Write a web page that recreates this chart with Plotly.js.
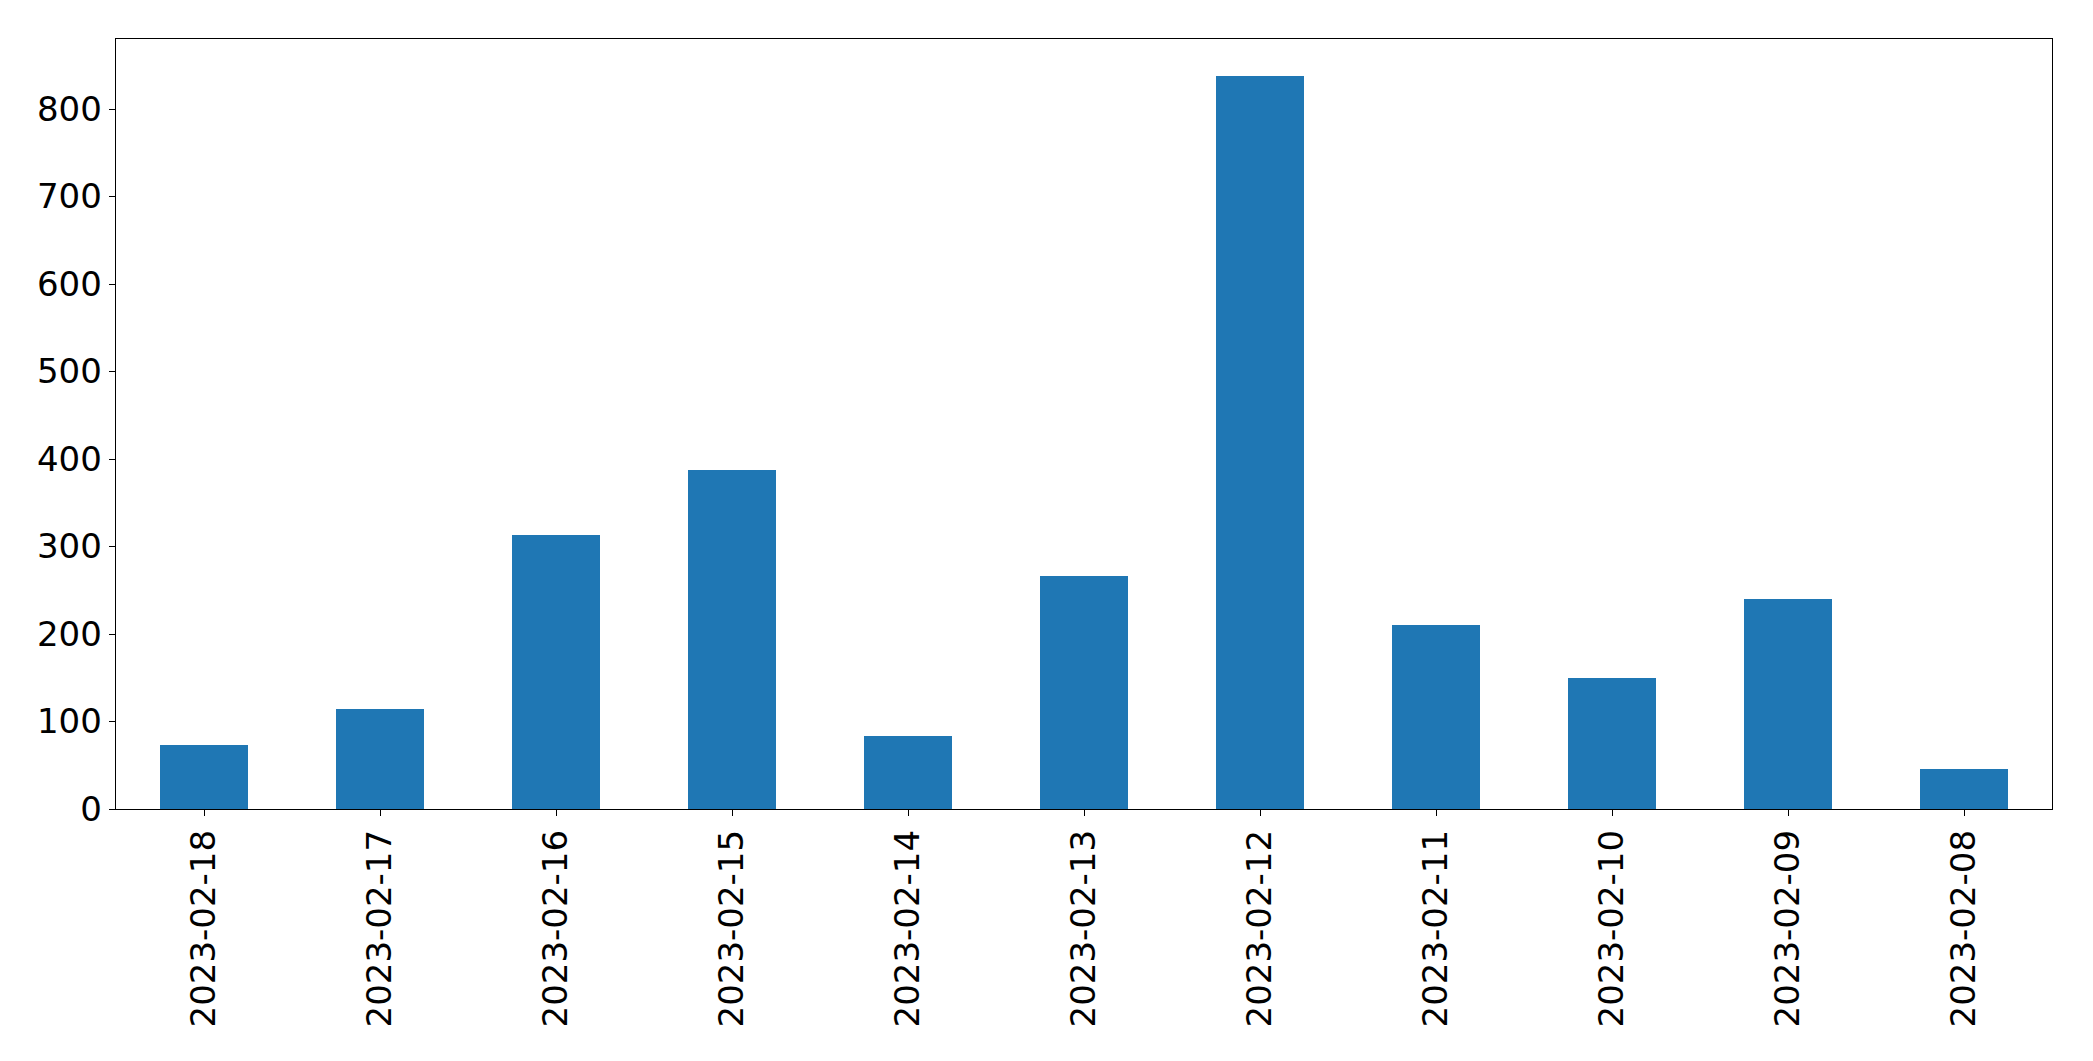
<!DOCTYPE html>
<html>
<head>
<meta charset="utf-8">
<script src="https://cdn.plot.ly/plotly-3.0.1.min.js"></script>
<style>html,body{margin:0;padding:0;background:#fff;}</style>
</head>
<body>
<div id="chart" style="width:2093px;height:1061px;"></div>
<script>
const dates = ["2023-02-18","2023-02-17","2023-02-16","2023-02-15","2023-02-14","2023-02-13","2023-02-12","2023-02-11","2023-02-10","2023-02-09","2023-02-08"];
const counts = [73, 114, 313, 388, 83, 266, 838, 210, 150, 240, 46];

const trace = {
  type: 'bar',
  x: dates,
  y: counts,
  width: 0.5,
  marker: {color: '#1f77b4', line: {width: 0}},
  hoverinfo: 'x+y'
};

const layout = {
  width: 2093,
  height: 1061,
  margin: {l: 116, r: 41, t: 39, b: 252, pad: 0},
  paper_bgcolor: '#ffffff',
  plot_bgcolor: '#ffffff',
  showlegend: false,
  bargap: 0,
  font: {family: 'DejaVu Sans', size: 34, color: '#000000'},
  xaxis: {
    type: 'category',
    range: [-0.5, 10.5],
    tickangle: -90,
    ticks: 'outside',
    ticklen: 6,
    tickwidth: 1,
    tickcolor: '#000',
    showline: true,
    linecolor: '#000',
    linewidth: 1.3,
    mirror: true,
    showgrid: false,
    zeroline: false,
    tickfont: {family: 'DejaVu Sans', size: 34, color: '#000'}
  },
  yaxis: {
    range: [0, 880],
    tick0: 0,
    dtick: 100,
    ticks: 'outside',
    ticklen: 6,
    tickwidth: 1,
    tickcolor: '#000',
    showline: true,
    linecolor: '#000',
    linewidth: 1.3,
    mirror: true,
    showgrid: false,
    zeroline: false,
    tickfont: {family: 'DejaVu Sans', size: 34, color: '#000'}
  }
};

Plotly.newPlot('chart', [trace], layout, {displayModeBar: false, staticPlot: true});
</script>
</body>
</html>
